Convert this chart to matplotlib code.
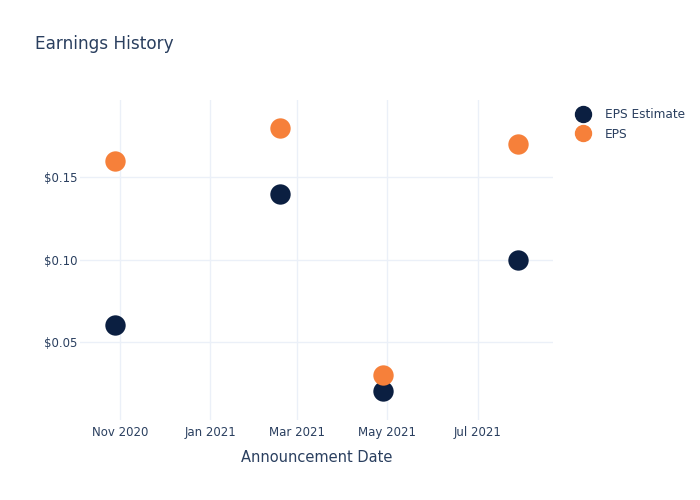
import matplotlib
matplotlib.use("Agg")
import matplotlib.pyplot as plt
import matplotlib.dates as mdates
from matplotlib.lines import Line2D
import numpy as np

# data
dates = np.array(["2020-10-29", "2021-02-17", "2021-04-28", "2021-07-28"], dtype="datetime64[D]")
eps_estimate = [0.06, 0.14, 0.02, 0.10]
eps_actual = [0.16, 0.18, 0.03, 0.17]
y_ticks = [0.05, 0.10, 0.15]

text_col = "#2a3f5f"
grid_col = "#ebf0f8"
navy = "#0b1f41"
orange = "#f6803a"

fig = plt.figure(figsize=(7, 5), dpi=100)
ax = fig.add_axes([80 / 700, 80 / 500, 473 / 700, 320 / 500])

ax.scatter(dates, eps_estimate, s=215, color=navy, zorder=3, linewidths=0)
ax.scatter(dates, eps_actual, s=215, color=orange, zorder=3, linewidths=0)

ax.set_xlim(np.datetime64("2020-10-05"), np.datetime64("2021-08-21"))
ax.set_ylim(0.0027, 0.1967)

ax.xaxis.set_major_locator(mdates.MonthLocator(bymonth=[1, 3, 5, 7, 11]))
ax.xaxis.set_major_formatter(mdates.DateFormatter("%b %Y"))
ax.set_yticks(y_ticks)
ax.set_yticklabels([f"${v:.2f}" for v in y_ticks])

ax.grid(True, color=grid_col, linewidth=1)
ax.set_axisbelow(True)
for s in ax.spines.values():
    s.set_visible(False)
ax.tick_params(axis="x", length=0, labelsize=8.5, colors=text_col, pad=4)
ax.tick_params(axis="y", length=0, labelsize=8.5, colors=text_col, pad=2)
ax.set_xlabel("Announcement Date", fontsize=10.5, color=text_col, labelpad=8)

fig.text(35 / 700, 1 - 44 / 500, "Earnings History", fontsize=12.2, color=text_col, va="center")

handles = [
    Line2D([], [], marker="o", linestyle="", markersize=11.5, color=navy, label="EPS Estimate"),
    Line2D([], [], marker="o", linestyle="", markersize=11.5, color=orange, label="EPS"),
]
fig.legend(handles=handles, loc="upper left", bbox_to_anchor=(576 / 700, 1 - 108 / 500),
           frameon=False, fontsize=8.7, labelcolor=text_col, handletextpad=1.2,
           labelspacing=0.55, borderaxespad=0, borderpad=0, handlelength=1.2)

fig.savefig("out.png", dpi=100)
